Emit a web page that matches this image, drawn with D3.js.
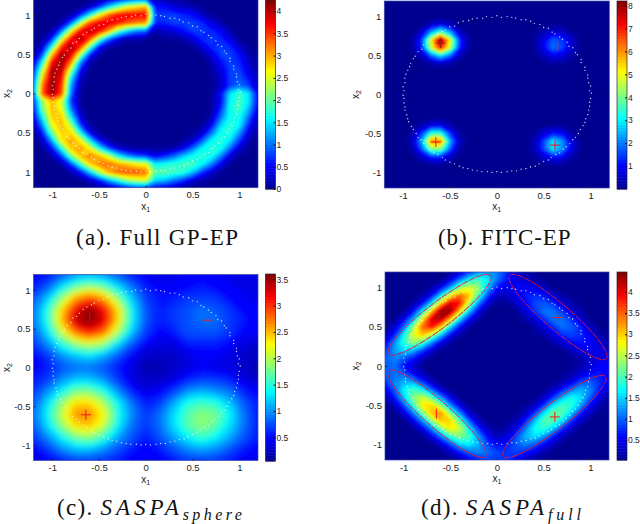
<!DOCTYPE html>
<html lang="en">
<head>
<meta charset="UTF-8">
<title>GP classification posterior panels</title>
<script src="https://cdn.jsdelivr.net/npm/d3@7"></script>
<style>
    html, body { margin: 0; padding: 0; background: #fff; }
    svg { display: block; }
    .tick text { font-family: "Liberation Sans", Arial, sans-serif; font-size: 9.5px; fill: #222; }
    .barAxis .tick text { font-size: 8.5px; }
    .axisLabel { font-family: "Liberation Sans", Arial, sans-serif; font-size: 10px; fill: #222; }
    .caption { font-family: "Liberation Serif", "Times New Roman", serif; font-size: 23px; fill: #111; }
</style>
</head>
<body>
<svg id="chart" width="640" height="524"></svg>
<script>
// values, rows run from x2 = 1.2 down to x2 = -1.2
var fullGpGrid = [
[0,0,0,0,0,0,0,.1,.3,.5,.7,.9,.9,.2,.2,.1,.1,0,0,0,0,0,0,0,0],
[0,0,0,0,0,.1,.3,.8,1.5,2.1,2.6,2.8,3,.6,.6,.4,.3,.2,.1,0,0,0,0,0,0],
[0,0,0,0,.2,.7,1.6,2.6,3.3,3.7,3.8,3.8,3.8,.8,.8,.8,.7,.6,.3,.1,0,0,0,0,0],
[0,0,0,.2,.9,2.2,3.4,3.8,3.9,3.7,3.4,3.2,3.1,.7,.7,.8,.8,.8,.7,.4,.2,0,0,0,0],
[0,0,.2,1,2.5,3.7,4,3.8,3.1,2.1,1.5,1.1,1,.2,.3,.4,.6,.8,.8,.7,.5,.2,0,0,0],
[0,.1,.7,2.3,3.7,4.1,3.5,2.2,1.1,.5,.2,.2,.1,0,.1,.1,.2,.4,.7,.8,.7,.4,.1,0,0],
[0,.4,1.7,3.5,4.1,3.6,2.1,.7,.2,.1,0,0,0,0,0,0,0,.1,.4,.7,.8,.7,.3,.1,0],
[.1,.9,2.9,4.1,3.9,2.4,.8,.2,0,0,0,0,0,0,0,0,0,0,.1,.4,.8,.8,.6,.2,0],
[.3,1.7,3.7,4.2,3.2,1.2,.2,0,0,0,0,0,0,0,0,0,0,0,0,.2,.6,.8,.7,.3,.1],
[.6,2.4,4.1,4,2.3,.6,.1,0,0,0,0,0,0,0,0,0,0,0,0,.1,.4,.8,.8,.4,.1],
[.8,2.9,4.2,3.7,1.6,.3,0,0,0,0,0,0,0,0,0,0,0,0,0,.1,.3,.8,.9,.6,.2],
[1,3.3,4.25,3.5,1.2,.2,0,0,0,0,0,0,0,0,0,0,0,0,0,0,.3,.8,1,.8,.2],
[1,3.4,4.2,3.4,1,.1,0,0,0,0,0,0,0,0,0,0,0,0,0,.1,.5,1.5,1.9,1.5,.5],
[.7,2.3,3,2.5,.8,.1,0,0,0,0,0,0,0,0,0,0,0,0,0,.1,.5,1.6,1.9,1.5,.5],
[.6,2.1,3,2.6,1.1,.2,0,0,0,0,0,0,0,0,0,0,0,0,0,.1,.7,1.7,1.9,1.3,.4],
[.4,1.7,2.9,2.9,1.6,.4,0,0,0,0,0,0,0,0,0,0,0,0,0,.2,1,1.7,1.7,1,.2],
[.2,1.2,2.6,3,2.3,.8,.2,0,0,0,0,0,0,0,0,0,0,0,.1,.5,1.4,1.8,1.6,.7,.1],
[.1,.7,2.1,2.9,2.8,1.7,.5,.1,0,0,0,0,0,0,0,0,0,.1,.3,1,1.7,1.8,1.2,.4,.1],
[0,.3,1.3,2.7,3.1,2.7,1.6,.6,.2,0,0,0,0,0,0,0,.1,.3,.9,1.6,1.8,1.5,.8,.2,0],
[0,.1,.6,1.7,2.9,3.1,2.7,1.7,.9,.4,.2,.1,.1,.1,.1,.2,.5,1,1.6,1.8,1.7,1,.3,.1,0],
[0,0,.2,.8,2,2.9,3.2,3,2.5,1.7,1.2,.9,.8,.5,.7,1,1.4,1.7,1.8,1.7,1.1,.4,.1,0,0],
[0,0,0,.2,.8,1.8,2.8,3.2,3.3,3.1,2.9,2.7,2.6,1.6,1.7,1.8,1.9,1.9,1.6,1.1,.5,.1,0,0,0],
[0,0,0,0,.2,.6,1.4,2.3,3,3.3,3.4,3.4,3.3,2,2,1.9,1.8,1.4,.8,.4,.1,0,0,0,0],
[0,0,0,0,0,.1,.3,.7,1.3,1.8,2.3,2.5,2.6,1.5,1.4,1.1,.8,.4,.2,.1,0,0,0,0,0],
[0,0,0,0,0,0,0,.1,.2,.4,.6,.8,.8,.5,.4,.3,.1,.1,0,0,0,0,0,0,0]
];

var fitcGrid = [
[0,0,0,0,0,0,0,0,0,0,0,0,0,0,0,0,0,0,0,0,0,0,0,0,0],
[0,0,0,0,0,0,0,0,0,0,0,0,0,0,0,0,0,0,0,0,0,0,0,0,0],
[0,0,0,0,0,0,.1,0,0,0,0,0,0,0,0,0,0,0,0,0,0,0,0,0,0],
[0,0,0,0,.1,.5,.8,.5,.1,0,0,0,0,0,0,0,0,.1,.1,.1,0,0,0,0,0],
[0,0,0,.1,.7,2.4,3.7,2.4,.7,.1,0,0,0,0,0,0,.1,.4,.7,.6,.2,0,0,0,0],
[0,0,0,.2,1.5,5.1,8.2,5.1,1.5,.2,0,0,0,0,0,0,.2,.9,1.8,1.5,.6,.1,0,0,0],
[0,0,0,.2,1.4,4.7,7.1,4.7,1.4,.2,0,0,0,0,0,0,.2,1,2,1.6,.6,.1,0,0,0],
[0,0,0,.1,.5,1.9,2.9,1.9,.5,.1,0,0,0,0,0,0,.1,.5,.9,.8,.3,0,0,0,0],
[0,0,0,0,.1,.3,.5,.3,.1,0,0,0,0,0,0,0,0,.1,.2,.2,.1,0,0,0,0],
[0,0,0,0,0,0,0,0,0,0,0,0,0,0,0,0,0,0,0,0,0,0,0,0,0],
[0,0,0,0,0,0,0,0,0,0,0,0,0,0,0,0,0,0,0,0,0,0,0,0,0],
[0,0,0,0,0,0,0,0,0,0,0,0,0,0,0,0,0,0,0,0,0,0,0,0,0],
[0,0,0,0,0,0,0,0,0,0,0,0,0,0,0,0,0,0,0,0,0,0,0,0,0],
[0,0,0,0,0,0,0,0,0,0,0,0,0,0,0,0,0,0,0,0,0,0,0,0,0],
[0,0,0,0,0,0,0,0,0,0,0,0,0,0,0,0,0,0,0,0,0,0,0,0,0],
[0,0,0,0,0,.1,.1,0,0,0,0,0,0,0,0,0,0,0,0,0,0,0,0,0,0],
[0,0,0,.1,.4,.9,.9,.4,.1,0,0,0,0,0,0,0,0,.1,.2,.2,.1,0,0,0,0],
[0,0,0,.3,1.5,3.5,3.5,1.5,.3,0,0,0,0,0,0,0,.2,.7,1.2,1,.3,.1,0,0,0],
[0,0,0,.5,2.5,6.2,6.2,2.5,.5,0,0,0,0,0,0,0,.4,1.6,3,2.2,.8,.1,0,0,0],
[0,0,0,.3,1.8,4.1,4.1,1.8,.3,0,0,0,0,0,0,0,.4,1.6,3,2.2,.8,.1,0,0,0],
[0,0,0,.1,.6,1.3,1.3,.6,.1,0,0,0,0,0,0,0,.2,.7,1.2,1,.3,.1,0,0,0],
[0,0,0,0,.1,.2,.2,.1,0,0,0,0,0,0,0,0,0,.1,.2,.2,.1,0,0,0,0],
[0,0,0,0,0,0,0,0,0,0,0,0,0,0,0,0,0,0,0,0,0,0,0,0,0],
[0,0,0,0,0,0,0,0,0,0,0,0,0,0,0,0,0,0,0,0,0,0,0,0,0],
[0,0,0,0,0,0,0,0,0,0,0,0,0,0,0,0,0,0,0,0,0,0,0,0,0]
];

var sphereGrid = [
[.5,.6,.8,1,1.1,1,.8,.6,.5,.4,.4,.5,.5,.5,.4,.4,.4],
[.6,.8,1.3,1.7,1.9,1.7,1.3,.9,.6,.5,.5,.5,.6,.5,.5,.4,.4],
[.8,1.2,1.9,2.6,2.9,2.6,1.9,1.2,.7,.6,.6,.7,.7,.7,.5,.5,.4],
[.9,1.5,2.4,3.2,3.6,3.2,2.4,1.4,.8,.6,.7,.8,.9,.8,.7,.5,.5],
[.9,1.5,2.5,3.4,3.6,3.3,2.4,1.4,.8,.6,.7,.8,.9,.9,.7,.6,.5],
[.8,1.3,2.1,2.8,3.1,2.8,2,1.2,.7,.5,.6,.8,.8,.8,.7,.5,.5],
[.7,1,1.5,1.9,2.1,1.9,1.3,.8,.5,.4,.4,.6,.6,.6,.5,.4,.3],
[.5,.7,1,1.2,1.3,1.1,.8,.5,.3,.3,.3,.4,.5,.5,.4,.3,.3],
[.5,.6,.8,.9,.9,.8,.6,.4,.2,.2,.3,.4,.5,.4,.4,.3,.2],
[.6,.7,1,1.2,1.2,1,.7,.4,.3,.3,.4,.6,.7,.7,.6,.4,.3],
[.7,1,1.4,1.8,1.8,1.5,1,.6,.4,.5,.7,1,1.1,1,.9,.6,.5],
[.8,1.3,1.9,2.4,2.4,2,1.4,.9,.6,.7,1.1,1.5,1.6,1.5,1.2,.8,.6],
[.9,1.4,2.1,2.7,2.7,2.3,1.5,1,.7,.9,1.3,1.7,1.9,1.8,1.4,.9,.6],
[.8,1.3,1.9,2.4,2.5,2.1,1.4,.9,.7,.9,1.3,1.7,1.9,1.7,1.3,.9,.6],
[.7,1,1.4,1.8,1.9,1.6,1.1,.8,.6,.8,1.1,1.4,1.6,1.4,1.1,.8,.6],
[.5,.7,1,1.2,1.2,1,.8,.6,.5,.6,.8,1,1.1,1,.8,.6,.5],
[.4,.5,.6,.7,.7,.7,.6,.5,.5,.5,.6,.7,.7,.7,.6,.5,.4]
];

var fullCovGrid = [
[0,0,0,0,0,0,0,.1,.4,.8,1.2,1.3,1.2,.8,.4,.2,.1,0,0,0,0,0,0,0,0],
[0,0,0,0,0,0,.1,.5,1.1,1.7,2,1.7,1.1,.7,.5,.4,.2,.1,0,0,0,0,0,0,0],
[0,0,0,0,0,.2,.6,1.3,2.3,2.7,2.4,1.4,.7,.5,.6,.6,.5,.3,.1,0,0,0,0,0,0],
[0,0,0,0,.2,.6,1.6,2.8,3.5,3.1,2,.9,.3,.3,.5,.7,.8,.7,.4,.2,.1,0,0,0,0],
[0,0,0,.2,.6,1.6,3.1,4.1,3.9,2.5,1.2,.4,.1,.1,.3,.6,.9,1,.8,.4,.2,.1,0,0,0],
[0,0,.1,.6,1.6,3.1,4.4,4.4,3,1.5,.5,.1,0,0,.1,.4,.8,1.1,1.1,.8,.4,.2,0,0,0],
[0,.1,.5,1.3,2.8,4.1,4.3,3.1,1.6,.6,.2,0,0,0,0,.2,.4,.8,1.1,1.1,.8,.4,.1,0,0],
[.1,.4,1,2.3,3.5,3.9,3,1.6,.6,.2,0,0,0,0,0,0,.2,.4,.8,1.1,1,.7,.3,.1,0],
[.2,.7,1.7,2.7,3.1,2.5,1.5,.6,.2,0,0,0,0,0,0,0,.1,.2,.4,.8,.9,.8,.5,.2,.1],
[.5,1.2,1.9,2.4,2,1.2,.5,.2,0,0,0,0,0,0,0,0,0,0,.2,.4,.6,.7,.6,.4,.2],
[.8,1.3,1.6,1.4,.9,.4,.1,0,0,0,0,0,0,0,0,0,0,0,0,.1,.3,.5,.5,.5,.3],
[1,1.2,1,.7,.3,.1,0,0,0,0,0,0,0,0,0,0,0,0,0,0,.1,.2,.4,.5,.5],
[1,1.1,.7,.4,.1,0,0,0,0,0,0,0,0,0,0,0,0,0,0,0,.1,.2,.4,.6,.6],
[1,1.1,1,.6,.3,.1,0,0,0,0,0,0,0,0,0,0,0,0,0,.1,.2,.4,.6,.7,.6],
[.8,1.2,1.4,1.3,.8,.3,.1,0,0,0,0,0,0,0,0,0,0,0,.1,.2,.5,.9,1,.8,.5],
[.5,1,1.7,2,1.7,1,.4,.1,0,0,0,0,0,0,0,0,0,.1,.3,.7,1.1,1.4,1.2,.7,.3],
[.2,.7,1.5,2.3,2.6,2.1,1.2,.5,.1,0,0,0,0,0,0,0,.1,.3,.8,1.4,1.8,1.6,1,.5,.1],
[.1,.3,.9,1.9,2.9,3,2.3,1.2,.5,.1,0,0,0,0,0,.1,.3,.8,1.6,2,1.9,1.3,.6,.2,.1],
[0,.1,.4,1.1,2.2,3.1,3.3,2.3,1.2,.4,.1,0,0,0,.1,.3,.8,1.6,2.2,2.1,1.5,.7,.3,.1,0],
[0,0,.1,.5,1.2,2.3,3.1,3,2.1,1,.3,.1,0,.1,.2,.7,1.4,2.1,2.1,1.6,.8,.3,.1,0,0],
[0,0,0,.1,.5,1.2,2.2,2.9,2.6,1.7,.8,.3,.1,.2,.5,1.1,1.8,1.9,1.5,.8,.3,.1,0,0,0],
[0,0,0,0,.1,.5,1.1,1.9,2.3,2,1.3,.6,.3,.4,.9,1.4,1.6,1.3,.7,.3,.1,0,0,0,0],
[0,0,0,0,0,.1,.4,.9,1.5,1.7,1.4,.9,.6,.7,1,1.2,1,.6,.3,.1,0,0,0,0,0],
[0,0,0,0,0,0,.1,.3,.7,1,1.2,1.1,.9,.8,.9,.7,.5,.2,.1,0,0,0,0,0,0],
[0,0,0,0,0,0,0,.1,.2,.5,.7,.9,.9,.8,.6,.3,.1,.1,0,0,0,0,0,0,0]
];

// training points, the same ring in every panel
var ringPoints = [
[1.01,.02],[.99,.05],[1,.11],[.98,.15],[.97,.21],[.97,.25],[.94,.31],[.94,.35],[.9,.41],[.9,.45],[.86,.51],[.84,.54],[.81,.6],[.77,.62],[.75,.67],[.7,.71],[.67,.74],[.62,.78],[.59,.8],[.55,.85],[.5,.86],[.46,.9],[.4,.91],[.36,.94],[.31,.96],[.26,.96],[.2,.98],[.16,.99],[.11,1],[.05,.99],
[0,1.01],[-.05,.99],[-.11,1],[-.15,.98],[-.21,.98],[-.26,.97],[-.3,.95],[-.36,.94],[-.41,.92],[-.45,.88],[-.5,.87],[-.55,.83],[-.58,.81],[-.63,.78],[-.67,.75],[-.71,.7],[-.74,.66],[-.78,.64],[-.8,.58],[-.84,.55],[-.87,.49],[-.89,.46],[-.92,.4],[-.93,.36],[-.95,.31],[-.97,.26],[-.98,.21],[-.98,.15],[-1,.1],[-.99,.05],
[-1,-.01],[-.99,-.05],[-.99,-.11],[-.98,-.16],[-.98,-.2],[-.96,-.26],[-.95,-.31],[-.94,-.35],[-.91,-.41],[-.89,-.45],[-.86,-.5],[-.84,-.55],[-.81,-.58],[-.78,-.63],[-.74,-.67],[-.71,-.7],[-.67,-.75],[-.63,-.77],[-.58,-.81],[-.55,-.84],[-.5,-.87],[-.45,-.89],[-.4,-.92],[-.36,-.94],[-.31,-.95],[-.26,-.97],[-.21,-.98],[-.16,-.99],[-.1,-.99],[-.05,-1],
[0,-.99],[.05,-1],[.11,-.99],[.16,-.98],[.21,-.98],[.26,-.96],[.31,-.95],[.36,-.93],[.41,-.92],[.45,-.89],[.5,-.86],[.55,-.84],[.58,-.81],[.63,-.77],[.67,-.75],[.71,-.7],[.74,-.67],[.78,-.63],[.81,-.58],[.84,-.55],[.87,-.5],[.89,-.45],[.92,-.4],[.94,-.36],[.95,-.31],[.97,-.26],[.98,-.2],[.99,-.15],[.99,-.1],[1,-.05]
];

// inducing inputs [x1, x2, shape], most print as only one stroke of the cross
var fitcCrosses = [[-.6,.66,"+"],[.65,.62,"|"],[-.65,-.61,"+"],[.62,-.65,"+"]];
var sphereCrosses = [[-.6,.65,"|"],[.66,.61,"-"],[-.64,-.61,"+"]];
var fullCrosses = [[-.62,.65,"|"],[.65,.62,"+"],[-.65,-.61,"|"],[.62,-.65,"+"]];

// ellipse tips [x1, x2, x1, x2] and half width, only on panel d
var fullEllipses = [
[-1.16,.15,-.07,1.16,.15],
[.14,1.16,1.17,.09,.15],
[-1.16,-.06,-.13,-1.16,.15],
[.07,-1.16,1.16,-.13,.15]
];

var axisTicks = [-1,-.5,0,.5,1];
var xTickLabels = ["-1","-0.5","0","0.5","1"];
var yTickLabels = ["-1","-0.5","0","0.5","1"];
var yTickLabelsA = ["1","0.5","0","0.5","1"];

var barTicksA = [0,.5,1,1.5,2,2.5,3,3.5,4];
var barTicksB = [1,2,3,4,5,6,7,8];
var barTicksC = [.5,1,1.5,2,2.5,3,3.5];
var barTicksD = [.5,1,1.5,2,2.5,3,3.5,4];

var jetStops = [0,.125,.375,.625,.875,1];
var jetColors = ["#00008f","#0000ff","#00ffff","#ffff00","#ff0000","#800000"];

var panels = [
    {grid: fullGpGrid, crosses: [], ellipses: [], barTicks: barTicksA, barDomain: [0,4.25], yLabels: yTickLabelsA, blur: 1.2,
     x: [33.5,258], y: [-.7,187.7], barX: [265.5,275.5], barY: [0,189], x2At: 10},
    {grid: fitcGrid, crosses: fitcCrosses, ellipses: [], barTicks: barTicksB, barDomain: [0,8.2], yLabels: yTickLabels, blur: .9,
     x: [384.3,609.3], y: [1,188], barX: [617,627], barY: [1,189], x2At: 359},
    {grid: sphereGrid, crosses: sphereCrosses, ellipses: [], barTicks: barTicksC, barDomain: [.05,3.6], yLabels: yTickLabels, blur: 3,
     x: [33.5,258], y: [274.5,460.5], barX: [265.5,275.5], barY: [274,461], x2At: 10},
    {grid: fullCovGrid, crosses: fullCrosses, ellipses: fullEllipses, barTicks: barTicksD, barDomain: [.03,4.47], yLabels: yTickLabels, blur: 1.3,
     x: [385,609], y: [272,460], barX: [617,627], barY: [272,460], x2At: 359}
];

var svg = d3.select("#chart");
var defs = svg.append("defs");

panels.forEach(function (p, idx) {
    var rows = p.grid.length, cols = p.grid[0].length;
    var flat = d3.merge(p.grid);

    var x = d3.scaleLinear().domain([-1.2,1.2]).range(p.x);
    var y = d3.scaleLinear().domain([1.2,-1.2]).range(p.y);
    // d3.contours puts grid value i at i + 0.5
    var gridX = d3.scaleLinear().domain([.5,cols-.5]).range(p.x);
    var gridY = d3.scaleLinear().domain([.5,rows-.5]).range(p.y);

    var jet = d3.scaleLinear()
        .domain(jetStops.map(function (s) { return p.barDomain[0] + s*(p.barDomain[1]-p.barDomain[0]); }))
        .range(jetColors);

    defs.append("clipPath").attr("id", "clip"+idx).append("rect")
        .attr("x", p.x[0]).attr("y", p.y[0])
        .attr("width", p.x[1]-p.x[0]).attr("height", p.y[1]-p.y[0]);
    defs.append("filter").attr("id", "soft"+idx)
        .attr("x", "-5%").attr("y", "-5%").attr("width", "110%").attr("height", "110%")
        .append("feGaussianBlur").attr("stdDeviation", p.blur);

    var g = svg.append("g");
    var plot = g.append("g").attr("clip-path", "url(#clip"+idx+")");
    var heat = plot.append("g").attr("filter", "url(#soft"+idx+")");

    heat.append("rect")
        .attr("x", p.x[0]-5).attr("y", p.y[0]-5)
        .attr("width", p.x[1]-p.x[0]+10).attr("height", p.y[1]-p.y[0]+10)
        .attr("fill", jet(p.barDomain[0]));

    var thresholds = d3.range(1,64).map(function (i) {
        return p.barDomain[0] + i/64*(p.barDomain[1]-p.barDomain[0]);
    });
    var contours = d3.contours().size([cols,rows]).smooth(true).thresholds(thresholds)(flat);
    var path = d3.geoPath(d3.geoTransform({
        point: function (a, b) { this.stream.point(gridX(a), gridY(b)); }
    }));
    heat.selectAll("path").data(contours).join("path")
        .attr("d", path)
        .attr("fill", function (d) { return jet(d.value); })
        .attr("stroke", function (d) { return jet(d.value); })
        .attr("stroke-width", .3);

    plot.selectAll("circle").data(ringPoints).join("circle")
        .attr("cx", function (d) { return x(d[0]); })
        .attr("cy", function (d) { return y(d[1]); })
        .attr("r", .7)
        .attr("fill", "#fff")
        .attr("opacity", .8);

    // red dashed ellipses, from the two tips and half width
    var line = d3.line()
        .x(function (d) { return x(d[0]); })
        .y(function (d) { return y(d[1]); })
        .curve(d3.curveLinearClosed);
    g.selectAll("path.ell").data(p.ellipses).join("path")
        .attr("class", "ell")
        .attr("d", function (e) {
            var cx = (e[0]+e[2])/2, cy = (e[1]+e[3])/2;
            var ax = (e[2]-e[0])/2, ay = (e[3]-e[1])/2;
            var len = Math.hypot(ax, ay);
            var bx = -ay/len*e[4], by = ax/len*e[4];
            return line(d3.range(0, 2*Math.PI, .05).map(function (t) {
                return [cx+ax*Math.cos(t)+bx*Math.sin(t), cy+ay*Math.cos(t)+by*Math.sin(t)];
            }));
        })
        .attr("fill", "none")
        .attr("stroke", "#e8182c")
        .attr("stroke-width", 1)
        .attr("stroke-dasharray", "7,1");

    g.selectAll("path.cross").data(p.crosses).join("path")
        .attr("class", "cross")
        .attr("d", function (c) {
            var px = x(c[0]), py = y(c[1]), r = 5, ctx = d3.path();
            if (c[2] !== "|") { ctx.moveTo(px-r, py); ctx.lineTo(px+r, py); }
            if (c[2] !== "-") { ctx.moveTo(px, py-r); ctx.lineTo(px, py+r); }
            return ctx.toString();
        })
        .attr("fill", "none")
        .attr("stroke", function (c, i) { return i === 0 ? "#a01818" : "#f01820"; })
        .attr("stroke-width", 1);

    // frame + axes
    g.append("rect")
        .attr("x", p.x[0]).attr("y", p.y[0])
        .attr("width", p.x[1]-p.x[0]).attr("height", p.y[1]-p.y[0])
        .attr("fill", "none").attr("stroke", "#3a4aa8").attr("stroke-width", .7);

    g.append("g").attr("transform", "translate(0,"+p.y[1]+")")
        .call(d3.axisBottom(x).tickValues(axisTicks)
            .tickFormat(function (d, i) { return xTickLabels[i]; })
            .tickSize(-2).tickPadding(4))
        .call(function (a) { a.select(".domain").remove(); a.selectAll("line").attr("stroke", "#223"); });

    g.append("g").attr("transform", "translate("+p.x[0]+",0)")
        .call(d3.axisLeft(y).tickValues(axisTicks)
            .tickFormat(function (d, i) { return p.yLabels[i]; })
            .tickSize(-2).tickPadding(3))
        .call(function (a) { a.select(".domain").remove(); a.selectAll("line").attr("stroke", "#223"); });

    var midX = (p.x[0]+p.x[1])/2, midY = y(0);
    var xl = g.append("text").attr("class", "axisLabel")
        .attr("x", midX).attr("y", p.y[1]+22).attr("text-anchor", "middle").text("x");
    xl.append("tspan").attr("dy", 2).attr("font-size", 7).text("1");
    var yl = g.append("text").attr("class", "axisLabel")
        .attr("transform", "translate("+p.x2At+","+midY+") rotate(-90)")
        .attr("text-anchor", "middle").text("x");
    yl.append("tspan").attr("dy", 2).attr("font-size", 7).text("2");

    // colour bar
    var barScale = d3.scaleLinear().domain(p.barDomain).range([p.barY[1],p.barY[0]]);
    var steps = d3.range(64).map(function (i) {
        return p.barDomain[0] + i/64*(p.barDomain[1]-p.barDomain[0]);
    });
    var stepH = (p.barDomain[1]-p.barDomain[0])/64;
    g.append("g").selectAll("rect").data(steps).join("rect")
        .attr("x", p.barX[0])
        .attr("y", function (d) { return barScale(d+stepH); })
        .attr("width", p.barX[1]-p.barX[0])
        .attr("height", barScale(0)-barScale(stepH)+.5)
        .attr("fill", function (d) { return jet(d+stepH/2); });
    g.append("rect")
        .attr("x", p.barX[0]).attr("y", p.barY[0])
        .attr("width", p.barX[1]-p.barX[0]).attr("height", p.barY[1]-p.barY[0])
        .attr("fill", "none").attr("stroke", "#223").attr("stroke-width", .7);
    g.append("g").attr("class", "barAxis").attr("transform", "translate("+p.barX[1]+",0)")
        .call(d3.axisRight(barScale).tickValues(p.barTicks)
            .tickFormat(d3.format("~g")).tickSize(-2).tickPadding(1))
        .call(function (a) { a.select(".domain").remove(); a.selectAll("line").attr("stroke", "#111"); });
});

// captions, spacing stretched to the wider type of the original
var caption = function (xPos, yPos, plain, spacing, maths, subText, subSpacing) {
    var t = svg.append("text").attr("class", "caption").attr("x", xPos).attr("y", yPos)
        .attr("letter-spacing", spacing).text(plain);
    if (maths) {
        t.append("tspan").attr("font-style", "italic").attr("letter-spacing", 4).text(maths);
        t.append("tspan").attr("font-style", "italic").attr("font-size", 16).attr("dy", 5)
            .attr("letter-spacing", subSpacing).text(subText);
    }
};
caption(76, 245, "(a). Full GP-EP", 1.3);
caption(438, 245, "(b). FITC-EP", .9);
caption(57, 515, "(c). ", 1.3, "SASPA", "sphere", 3.4);
caption(421, 515, "(d). ", 1.3, "SASPA", "full", 3.9);
</script>
</body>
</html>
